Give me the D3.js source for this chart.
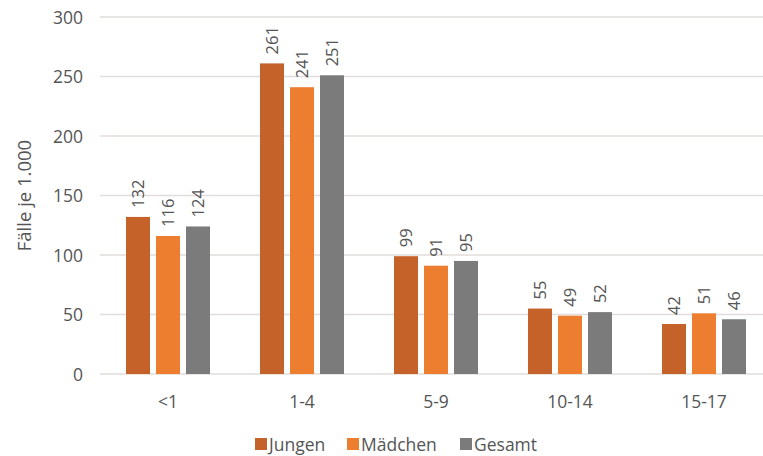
<!DOCTYPE html>
<html><head><meta charset="utf-8">
<script src="https://cdn.jsdelivr.net/npm/d3@7"></script>
<style>
html,body{margin:0;padding:0;background:#fff;}
svg{display:block;font-family:"Open Sans",sans-serif;}
</style></head>
<body><svg id="c" width="763" height="456"></svg>
<script>
const categories = ["<1","1-4","5-9","10-14","15-17"];
const seriesNames = ["Jungen","Mädchen","Gesamt"];
const jungen = [132,261,99,55,42];
const maedchen = [116,241,91,49,51];
const gesamt = [124,251,95,52,46];
const yTicks = [0,50,100,150,200,250,300];
const colors = ["#C5622A","#ED7E30","#7B7B7B"];
const yTitle = "Fälle je 1.000";

const series = [jungen, maedchen, gesamt];
const svg = d3.select("#c");
const textColor = "#555555";

const x0 = d3.scaleBand().domain(categories).range([101, 771]).padding(0);
const x1 = d3.scaleBand().domain(seriesNames).range([-42, 42]).paddingInner(0.2).paddingOuter(0);
const y = d3.scaleLinear().domain([0, 300]).range([374, 17]);

// gridlines
svg.append("g").selectAll("line").data(yTicks).join("line")
  .attr("x1", 100).attr("x2", 763)
  .attr("y1", d => y(d)).attr("y2", d => y(d))
  .attr("stroke", "#E2DCDA").attr("stroke-width", 1.3);

// y tick labels
const yAxis = svg.append("g").attr("transform", "translate(101,0)")
  .call(d3.axisLeft(y).tickValues(yTicks).tickSize(0).tickPadding(18));
yAxis.select(".domain").remove();
yAxis.selectAll("text").attr("font-family", "Open Sans").attr("font-size", 17.5).attr("fill", textColor).attr("dy","0.36em");

// y title
svg.append("text")
  .attr("transform", `translate(31,${(y(0)+y(300))/2}) rotate(-90)`)
  .attr("text-anchor", "middle")
  .attr("font-size", 18.5).attr("fill", textColor)
  .text(yTitle);

// x labels
const xAxis = svg.append("g").attr("transform", `translate(0,${y(0)})`)
  .call(d3.axisBottom(x0).tickSize(0).tickPadding(22));
xAxis.select(".domain").remove();
xAxis.selectAll("text").attr("font-family", "Open Sans").attr("font-size", 17.5).attr("fill", textColor);

// bars
const groups = svg.append("g").selectAll("g").data(categories).join("g")
  .attr("transform", d => `translate(${x0(d) + x0.bandwidth()/2},0)`);

groups.each(function(cat, ci) {
  const g = d3.select(this);
  seriesNames.forEach((s, si) => {
    const v = series[si][ci];
    g.append("rect")
      .attr("x", x1(s)).attr("width", x1.bandwidth())
      .attr("y", y(v)).attr("height", y(0) - y(v))
      .attr("fill", colors[si]);
    g.append("text")
      .attr("transform", `translate(${x1(s) + x1.bandwidth()/2},${y(v) - 9}) rotate(-90)`)
      .attr("dy", "0.36em")
      .attr("text-anchor", "start")
      .attr("font-size", 16.5).attr("fill", textColor)
      .text(v);
  });
});

// legend
const legendX = [255, 347, 460];
const lg = svg.append("g");
seriesNames.forEach((s, i) => {
  lg.append("rect").attr("x", legendX[i]).attr("y", 438).attr("width", 12).attr("height", 12).attr("fill", colors[i]);
  lg.append("text").attr("x", legendX[i] + 14).attr("y", 451)
    .attr("font-size", 17.5).attr("fill", textColor).text(s);
});
</script></body></html>
